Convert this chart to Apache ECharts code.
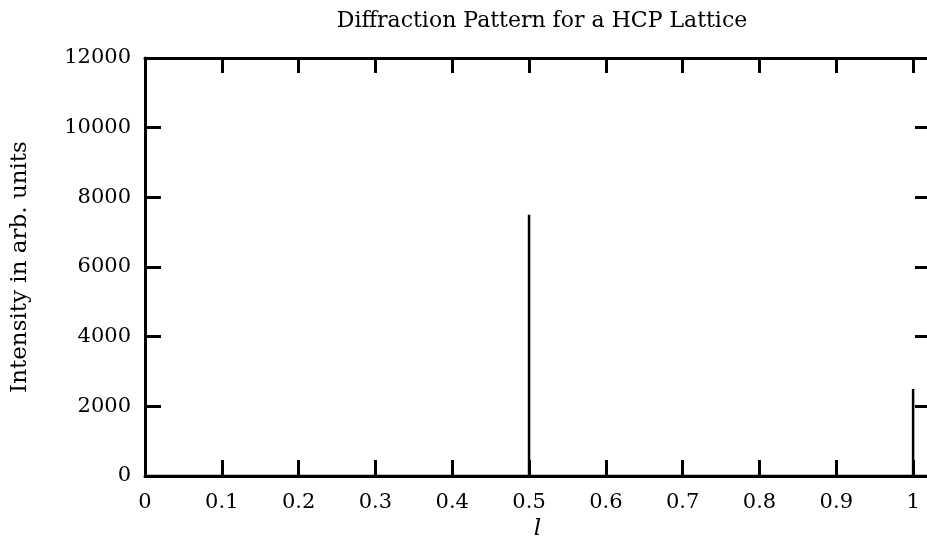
<!DOCTYPE html>
<html>
<head>
<meta charset="utf-8">
<script src="https://cdn.jsdelivr.net/npm/echarts@6/dist/echarts.min.js"></script>
<style>
html,body{margin:0;padding:0;background:#fff;}
#chart{width:927px;height:553px;}
</style>
</head>
<body>
<div id="chart"></div>
<script>
// Data
var titleText = 'Diffraction Pattern for a HCP Lattice';
var xAxisName = 'l';
var yAxisName = 'Intensity in arb. units';
var peakPositions = [0.5, 1.0];
var peakIntensities = [7500, 2500];
var xMin = 0, xMax = 1.022, xStep = 0.1;
var yMin = 0, yMax = 12000, yStep = 2000;

var seriesData = [[xMin, 0]];
for (var i = 0; i < peakPositions.length; i++) {
  seriesData.push([peakPositions[i], 0]);
  seriesData.push([peakPositions[i], peakIntensities[i]]);
  seriesData.push([peakPositions[i], 0]);
}
seriesData.push([xMax, 0]);

var font = 'DejaVu Serif';
var chart = echarts.init(document.getElementById('chart'), null, {renderer: 'canvas'});
var axisLineStyle = {color: '#000', width: 3};
var tickStyle = {color: '#000', width: 3};
chart.setOption({
  animation: false,
  backgroundColor: '#fff',
  title: {
    text: titleText,
    left: 537, top: 5, textAlign: 'center',
    textStyle: {fontFamily: font, fontSize: 22, fontWeight: 'normal', color: '#000'}
  },
  grid: {left: 145, width: 785, top: 58, bottom: 77, containLabel: false, outerBoundsMode: 'none'},
  xAxis: [{
    type: 'value', min: xMin, max: xMax, interval: xStep, position: 'bottom',
    name: xAxisName, nameLocation: 'middle', nameGap: 42,
    nameTextStyle: {fontFamily: font, fontSize: 23, fontStyle: 'italic', color: '#000'},
    axisLine: {show: true, onZero: false, lineStyle: axisLineStyle},
    axisTick: {show: true, inside: true, length: 16, lineStyle: tickStyle},
    axisLabel: {fontFamily: font, fontSize: 21, color: '#000', margin: 16,
      formatter: function (v) { return v > 1.0001 ? '' : String(Math.round(v * 10) / 10); }},
    splitLine: {show: false}
  }, {
    type: 'value', min: xMin, max: xMax, interval: xStep, position: 'top',
    axisLine: {show: true, onZero: false, lineStyle: axisLineStyle},
    axisTick: {show: true, inside: true, length: 15, lineStyle: tickStyle},
    axisLabel: {show: false},
    splitLine: {show: false}
  }],
  yAxis: [{
    type: 'value', min: yMin, max: yMax, interval: yStep, position: 'left',
    name: yAxisName, nameLocation: 'middle', nameGap: 113, nameRotate: 90,
    nameTextStyle: {fontFamily: font, fontSize: 23, color: '#000'},
    axisLine: {show: true, onZero: false, lineStyle: axisLineStyle},
    axisTick: {show: true, inside: true, length: 16, lineStyle: tickStyle},
    axisLabel: {fontFamily: font, fontSize: 21, color: '#000', margin: 14,
      formatter: function (v) { return String(v); }},
    splitLine: {show: false}
  }, {
    type: 'value', min: yMin, max: yMax, interval: yStep, position: 'right',
    axisLine: {show: true, onZero: false, lineStyle: axisLineStyle},
    axisTick: {show: true, inside: true, length: 15, lineStyle: tickStyle},
    axisLabel: {show: false},
    splitLine: {show: false}
  }],
  series: [{
    type: 'line', xAxisIndex: 0, yAxisIndex: 0,
    data: seriesData, showSymbol: false, symbol: 'none',
    lineStyle: {color: '#000', width: 2.5}, silent: true, clip: true
  }]
});
</script>
</body>
</html>
